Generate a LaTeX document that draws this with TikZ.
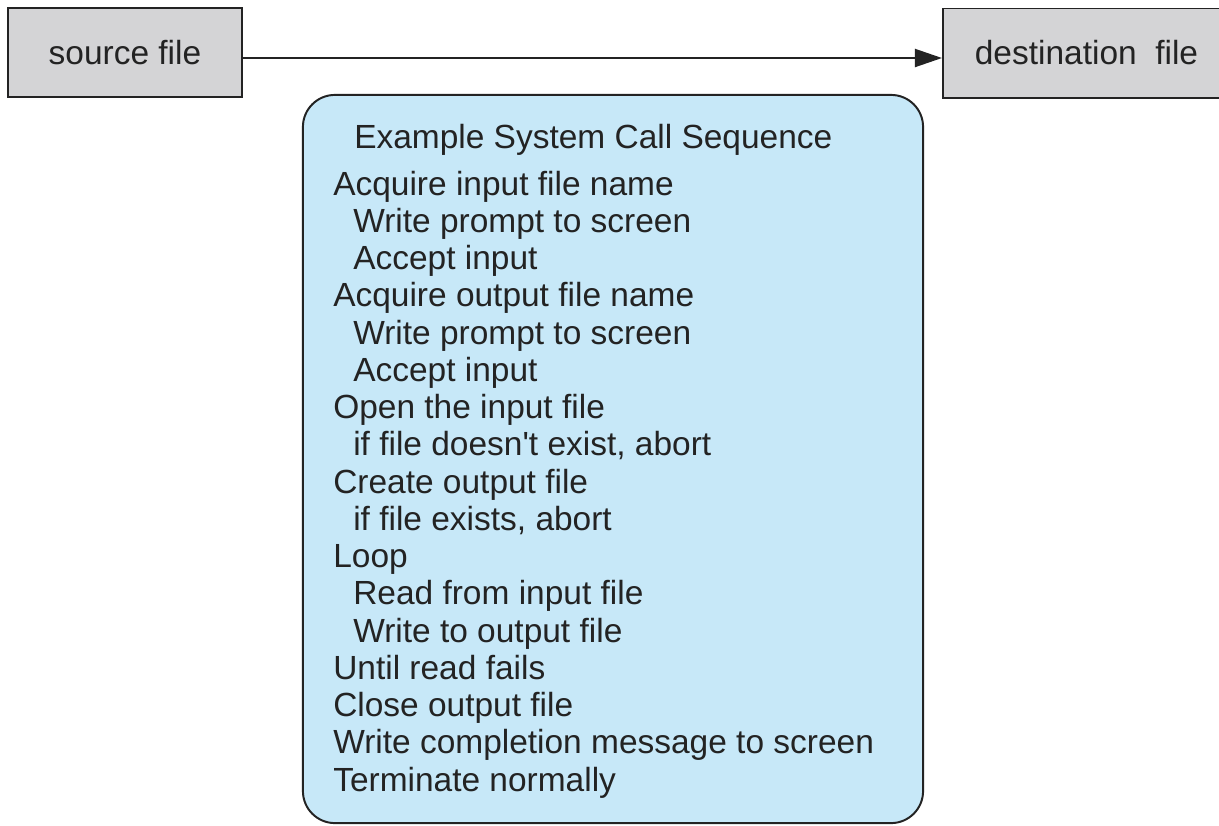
\documentclass[tikz,border=0pt]{standalone}
\usepackage{fontspec}
\setmainfont{Liberation Sans}
\usetikzlibrary{arrows.meta, positioning}

\definecolor{filegray}{RGB}{212,212,214}
\definecolor{seqblue}{RGB}{199,232,248}
\definecolor{inkgray}{RGB}{35,35,35}

\begin{document}
\begin{tikzpicture}[
  x=0.025cm, y=-0.025cm,
  filebox/.style={draw=inkgray, fill=filegray, line width=1.4pt, minimum height=2.225cm, font=\fontsize{23.8}{28}\selectfont, text=inkgray},
  seqbox/.style={draw=inkgray, fill=seqblue, line width=1.4pt, rounded corners=0.8cm, minimum width=15.5cm, minimum height=18.2cm},
  seqline/.style={anchor=base west, inner sep=0pt, font=\fontsize{23.8}{28}\selectfont, text=inkgray}]

  \useasboundingbox (0,0) rectangle (1219,825);
  \clip (0,0) rectangle (1219,825);

  \node[filebox, minimum width=5.85cm] (src) at (125,52.5) {source file};
  \node[filebox, minimum width=7.175cm] (dst) at (1086.5,53) {destination\ \ file};

  \draw[inkgray, line width=1.4pt, -{Triangle[length=0.675cm,width=0.45cm]}] (src.east |- 0,58) -- (dst.west |- 0,58);

  \node[seqbox] (seq) at (613,459) {};

  \node[seqline] (title) at (354,148) {Example System Call Sequence};
  \foreach \txt/\ind [count=\i from 0] in {
      {Acquire input file name}/0,
      {Write prompt to screen}/1,
      {Accept input}/1,
      {Acquire output file name}/0,
      {Write prompt to screen}/1,
      {Accept input}/1,
      {Open the input file}/0,
      {if file doesn\textquotesingle t exist, abort}/1,
      {Create output file}/0,
      {if file exists, abort}/1,
      {Loop}/0,
      {Read from input file}/1,
      {Write to output file}/1,
      {Until read fails}/0,
      {Close output file}/0,
      {Write completion message to screen}/0,
      {Terminate normally}/0}
    \node[seqline] (line\i) at (333+20*\ind,195+37.25*\i) {\txt};
\end{tikzpicture}
\end{document}
